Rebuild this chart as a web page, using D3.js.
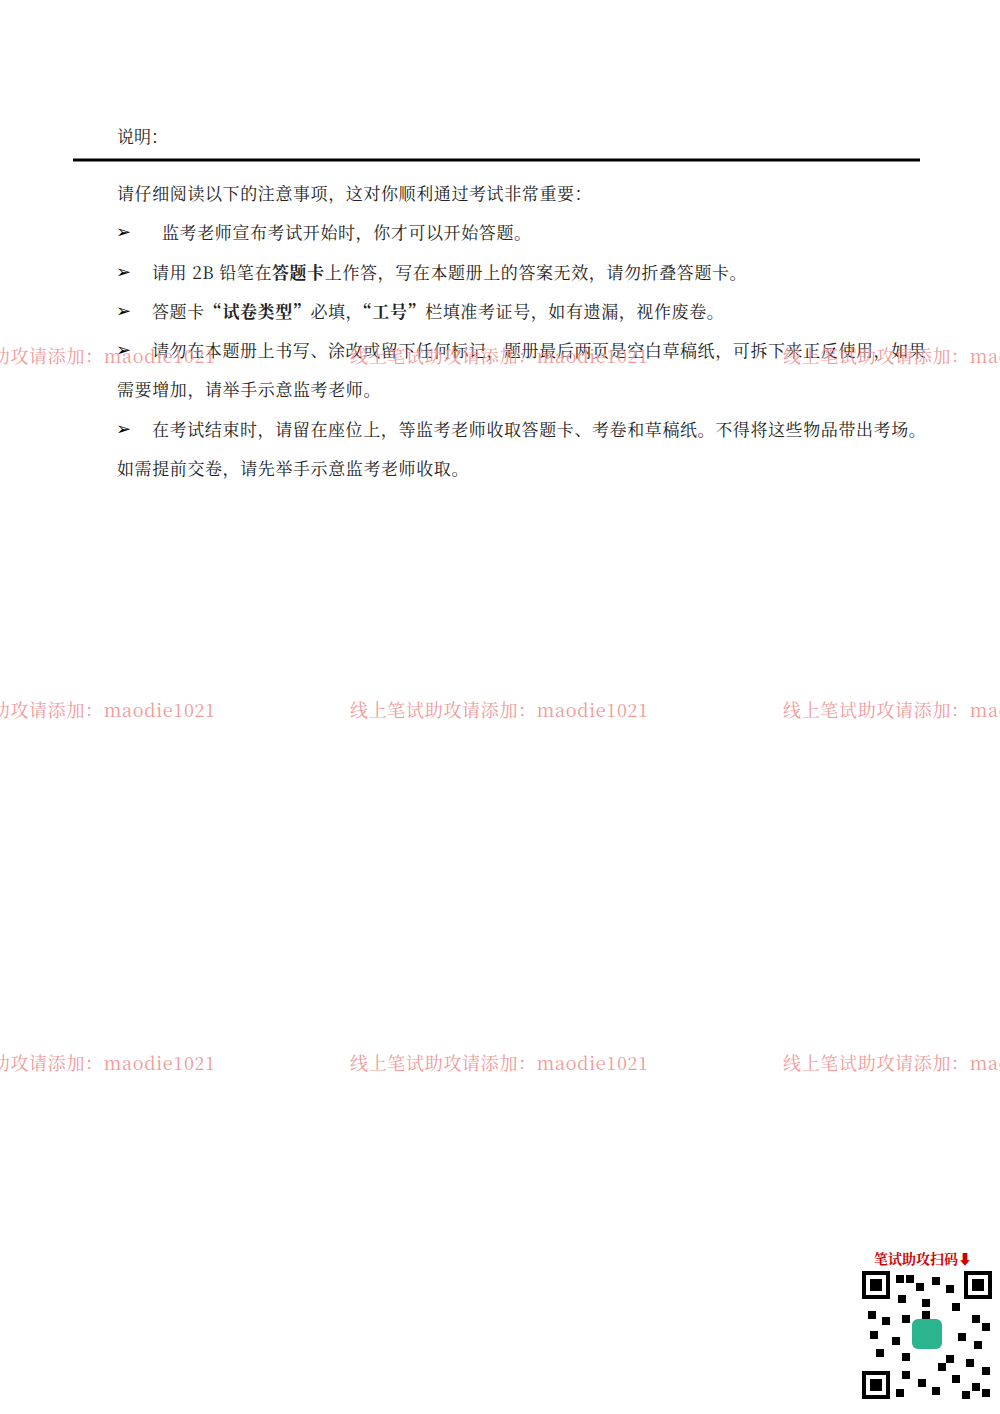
<!DOCTYPE html>
<html><head><meta charset="utf-8">
<script src="https://cdn.jsdelivr.net/npm/d3@7"></script>
<style>body{margin:0;background:#fff}</style>
</head><body><svg id="page" width="1000" height="1414"></svg>
<script>
// text lines: each is list of [text, bold]
const lineTexts = [
  [["请仔细阅读以下的注意事项，这对你顺利通过考试非常重要：", 0]],
  [["监考老师宣布考试开始时，你才可以开始答题。", 0]],
  [["请用 2B 铅笔在", 0], ["答题卡", 1], ["上作答，写在本题册上的答案无效，请勿折叠答题卡。", 0]],
  [["答题卡", 0], ["“试卷类型”", 1], ["必填，", 0], ["“工号”", 1], ["栏填准考证号，如有遗漏，视作废卷。", 0]],
  [["请勿在本题册上书写、涂改或留下任何标记，题册最后两页是空白草稿纸，可拆下来正反使用，如果", 0]],
  [["需要增加，请举手示意监考老师。", 0]],
  [["在考试结束时，请留在座位上，等监考老师收取答题卡、考卷和草稿纸。不得将这些物品带出考场。", 0]],
  [["如需提前交卷，请先举手示意监考老师收取。", 0]]
];
const bulleted = [false, true, true, true, true, false, true, false];
const indentFirst = [false, true, false, false, false, false, false, false];
const watermark = "线上笔试助攻请添加：maodie1021";
const wmRows = [357, 711, 1064];
const wmCols = [-83, 350, 783];

const svg = d3.select("#page");
const font = "'Noto Serif CJK SC','Noto Sans CJK SC',serif";

svg.append("text").attr("x", 117).attr("y", 143).attr("font-family", font)
  .attr("font-size", 17).attr("fill", "#222").text("说明：");
svg.append("line").attr("x1", 73).attr("x2", 920).attr("y1", 160).attr("y2", 160)
  .attr("stroke", "#000").attr("stroke-width", 3);

const y = d3.scaleLinear().domain([0, 7]).range([200, 475]);

const rows = svg.selectAll("g.row").data(lineTexts).enter().append("g").attr("class", "row");
rows.each(function(d, i) {
  const g = d3.select(this);
  if (bulleted[i]) g.append("text").attr("x", 116).attr("y", y(i) - 1).attr("font-size", 18)
    .attr("font-family", "DejaVu Sans").text("➢");
  const t = g.append("text").attr("x", bulleted[i] ? (indentFirst[i] ? 162 : 152) : 117)
    .attr("y", y(i)).attr("font-family", font).attr("font-size", 17)
    .attr("letter-spacing", 0.6).attr("fill", "#222");
  t.selectAll("tspan").data(d).enter().append("tspan")
    .attr("font-weight", s => s[1] ? "bold" : "normal").text(s => s[0]);
});

wmRows.forEach(r => wmCols.forEach(c => {
  svg.append("text").attr("x", c).attr("y", r + 6).attr("font-family", font)
    .attr("font-size", 18).attr("fill", "#f29a9a").attr("textLength", 298).text(watermark);
}));

// QR badge
svg.append("text").attr("x", 874).attr("y", 1264).attr("font-family", font).attr("font-size", 14)
  .attr("font-weight", "bold").attr("fill", "#c00").text("笔试助攻扫码⬇");
const qr = svg.append("g").attr("transform", "translate(862,1271)");
qr.append("rect").attr("width", 130).attr("height", 128).attr("fill", "#fff");
[[0,0],[102,0],[0,100]].forEach(([x, yy]) => {
  qr.append("rect").attr("x", x + 2).attr("y", yy + 2).attr("width", 24).attr("height", 24)
    .attr("fill", "none").attr("stroke", "#000").attr("stroke-width", 4);
  qr.append("rect").attr("x", x + 8).attr("y", yy + 8).attr("width", 12).attr("height", 12).attr("fill", "#000");
});
const cells = [[34,4],[44,4],[54,12],[70,6],[84,14],[36,24],[60,28],[90,32],[6,40],[20,46],[40,44],
  [110,44],[120,52],[8,60],[30,66],[96,62],[112,70],[14,78],[40,82],[84,84],[104,88],[120,96],
  [40,100],[56,108],[70,116],[90,104],[110,112],[34,118],[100,120],[120,118],[60,40],[76,92]];
qr.selectAll("rect.c").data(cells).enter().append("rect").attr("class", "c")
  .attr("x", d => d[0]).attr("y", d => d[1]).attr("width", 8).attr("height", 8).attr("fill", "#000");
qr.append("rect").attr("x", 50).attr("y", 48).attr("width", 30).attr("height", 30).attr("rx", 6).attr("fill", "#2bb58e");
</script></body></html>
